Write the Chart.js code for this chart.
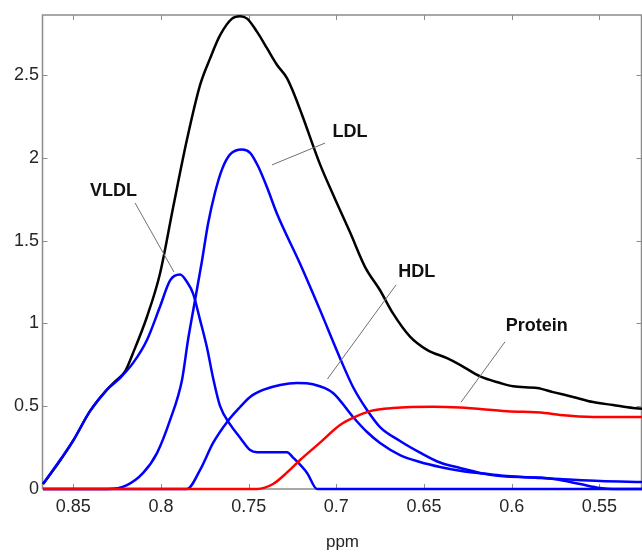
<!DOCTYPE html>
<html><head><meta charset="utf-8">
<script src="https://cdn.jsdelivr.net/npm/chart.js@4"></script>
<style>html,body{margin:0;padding:0;background:#fff;overflow:hidden}canvas{display:block}</style>
</head><body>
<canvas id="c" width="642" height="555"></canvas>
<script>
// ---- axis ticks ----
const xTicks = [0.85, 0.8, 0.75, 0.7, 0.65, 0.6, 0.55];
const xTickLabels = ['0.85', '0.8', '0.75', '0.7', '0.65', '0.6', '0.55'];
const yTicks = [0, 0.5, 1, 1.5, 2, 2.5];
const yTickLabels = ['0', '0.5', '1', '1.5', '2', '2.5'];
const xRange = [0.5257, 0.8673];
const yRange = [0, 2.862];
const xTitle = 'ppm';

// ---- series: Total (black) ----
const totalPpm = [0.8673,0.8576,0.8502,0.8405,0.8308,0.8262,0.8205,0.8160,0.8080,0.8006,0.7931,0.7852,0.7777,0.7720,0.7663,0.7595,0.7549,0.7509,0.7452,0.7395,0.7338,0.7281,0.7247,0.7196,0.7093,0.7007,0.6922,0.6836,0.6751,0.6677,0.6580,0.6483,0.6369,0.6295,0.6180,0.6066,0.5992,0.5855,0.5764,0.5650,0.5536,0.5422,0.5308,0.5257];
const totalVal = [0.03,0.17,0.29,0.47,0.60,0.65,0.71,0.82,1.04,1.30,1.70,2.11,2.44,2.60,2.74,2.84,2.855,2.84,2.76,2.66,2.56,2.48,2.40,2.26,1.96,1.75,1.55,1.34,1.20,1.06,0.92,0.84,0.79,0.75,0.68,0.64,0.62,0.61,0.585,0.556,0.525,0.507,0.489,0.485];

// ---- VLDL (blue) ----
const vldlPpm = [0.8673,0.8576,0.8502,0.8405,0.8308,0.8234,0.8160,0.8080,0.8006,0.7948,0.7891,0.7852,0.7817,0.7777,0.7737,0.7703,0.7663,0.7606,0.7549,0.7492,0.7452,0.7281,0.7247,0.7167,0.7110,0.6500,0.5257];
const vldlVal = [0.03,0.175,0.29,0.47,0.60,0.67,0.76,0.90,1.10,1.26,1.295,1.25,1.18,1.02,0.85,0.67,0.50,0.39,0.31,0.235,0.222,0.222,0.19,0.097,0,0,0];

// ---- LDL (blue) ----
const ldlPpm = [0.8673,0.8308,0.8194,0.8102,0.8023,0.7948,0.7880,0.7846,0.7806,0.7766,0.7732,0.7692,0.7652,0.7606,0.7538,0.7492,0.7447,0.7395,0.7338,0.7207,0.7093,0.6979,0.6905,0.6825,0.6751,0.6637,0.6523,0.6409,0.6295,0.6180,0.6066,0.5952,0.5838,0.5724,0.5610,0.5496,0.5422,0.5257];
const ldlVal = [0,0,0.024,0.097,0.217,0.417,0.66,0.90,1.14,1.38,1.60,1.79,1.93,2.02,2.05,2.03,1.95,1.82,1.66,1.36,1.08,0.79,0.616,0.477,0.374,0.29,0.22,0.16,0.127,0.097,0.079,0.072,0.07,0.054,0.030,0.006,0,0];

// ---- HDL (blue) ----
const hdlPpm = [0.8673,0.7852,0.7777,0.7703,0.7623,0.7549,0.7492,0.7418,0.7321,0.7224,0.7133,0.7019,0.6905,0.6825,0.6751,0.6637,0.6523,0.6409,0.6295,0.6180,0.6066,0.5838,0.5724,0.5496,0.5257];
const hdlVal = [0,0,0.115,0.278,0.405,0.495,0.556,0.598,0.628,0.640,0.632,0.58,0.435,0.344,0.278,0.205,0.163,0.133,0.11,0.095,0.082,0.066,0.06,0.048,0.042];

// ---- Protein (red) ----
const protPpm = [0.8673,0.7452,0.7361,0.7281,0.7207,0.7093,0.6979,0.6893,0.6808,0.6677,0.6448,0.6295,0.6026,0.5812,0.5724,0.5536,0.5257];
const protVal = [0,0,0.03,0.10,0.175,0.28,0.386,0.435,0.47,0.489,0.497,0.492,0.47,0.459,0.447,0.435,0.435];

// ---- annotations (label, text anchor ppm/value, leader from -> to) ----
const annLabels = ['VLDL', 'LDL', 'HDL', 'Protein'];
const annTextPpm = [0.8271, 0.6922, 0.6541, 0.5857];
const annTextVal = [1.80, 2.153, 1.312, 0.985];
const annFromPpm = [0.8148, 0.7064, 0.6660, 0.6038];
const annFromVal = [1.727, 2.089, 1.232, 0.889];
const annToPpm = [0.7926, 0.7367, 0.7051, 0.6289];
const annToVal = [1.31, 1.957, 0.664, 0.524];

const FONT = "'Liberation Sans', Arial, Helvetica, sans-serif";

function ds(label, ppm, vals, color, order) {
  return {
    label, data: ppm.map((p, i) => ({x: p, y: vals[i]})),
    borderColor: color, backgroundColor: color, borderWidth: 2.5,
    pointRadius: 0, fill: false, cubicInterpolationMode: 'monotone',
    order, clip: false
  };
}

const framePlugin = {
  id: 'frame',
  beforeDatasetsDraw(chart) {
    const {ctx, chartArea: a, scales: {x, y}} = chart;
    ctx.save();
    ctx.strokeStyle = '#8c8c8c';
    ctx.lineWidth = 1.5;
    const L = a.left - 0.5, R = a.right - 0.5, T = a.top, B = a.bottom;
    ctx.beginPath();
    ctx.moveTo(L, B); ctx.lineTo(L, T); ctx.lineTo(R, T); ctx.lineTo(R, B); ctx.lineTo(L, B);
    ctx.stroke();
    ctx.lineWidth = 1;
    const tl = 5;
    ctx.beginPath();
    xTicks.forEach(v => {
      const px = Math.round(x.getPixelForValue(v)) + 0.5;
      ctx.moveTo(px, T); ctx.lineTo(px, T + tl);
      ctx.moveTo(px, B); ctx.lineTo(px, B - tl);
    });
    yTicks.forEach(v => {
      const py = Math.round(y.getPixelForValue(v)) + 0.5;
      ctx.moveTo(L, py); ctx.lineTo(L + tl, py);
      ctx.moveTo(R, py); ctx.lineTo(R - tl, py);
    });
    ctx.stroke();
    ctx.restore();
  },
  afterDatasetsDraw(chart) {
    const {ctx, scales: {x, y}} = chart;
    ctx.save();
    ctx.strokeStyle = '#707070';
    ctx.lineWidth = 1;
    annLabels.forEach((t, i) => {
      ctx.beginPath();
      ctx.moveTo(x.getPixelForValue(annFromPpm[i]), y.getPixelForValue(annFromVal[i]));
      ctx.lineTo(x.getPixelForValue(annToPpm[i]), y.getPixelForValue(annToVal[i]));
      ctx.stroke();
    });
    ctx.fillStyle = '#111';
    ctx.font = 'bold 18px ' + FONT;
    ctx.textAlign = 'center';
    ctx.textBaseline = 'middle';
    annLabels.forEach((t, i) => {
      ctx.fillText(t, x.getPixelForValue(annTextPpm[i]), y.getPixelForValue(annTextVal[i]));
    });
    ctx.restore();
  }
};

new Chart(document.getElementById('c'), {
  type: 'line',
  data: {
    datasets: [
      ds('Protein', protPpm, protVal, '#ff0000', 1),
      ds('HDL', hdlPpm, hdlVal, '#0000ff', 2),
      ds('LDL', ldlPpm, ldlVal, '#0000ff', 3),
      ds('VLDL', vldlPpm, vldlVal, '#0000ff', 4),
      ds('Total', totalPpm, totalVal, '#000000', 5)
    ]
  },
  options: {
    responsive: false,
    animation: false,
    events: [],
    layout: {padding: {top: 15, right: 0, left: 0, bottom: 0}},
    plugins: {legend: {display: false}, tooltip: {enabled: false}},
    scales: {
      x: {
        type: 'linear', reverse: true, min: xRange[0], max: xRange[1],
        grid: {display: false, drawTicks: false}, border: {display: false},
        ticks: {font: {family: FONT, size: 18}, color: '#262626', padding: 7, maxRotation: 0, autoSkip: false,
                callback: (v, i) => xTickLabels[i]},
        afterBuildTicks: s => { s.ticks = xTicks.map(v => ({value: v})); },
        afterFit: s => { s.height = 66; },
        title: {display: true, text: xTitle, font: {family: FONT, size: 17}, color: '#262626', padding: {top: 0, bottom: 2}}
      },
      y: {
        type: 'linear', min: yRange[0], max: yRange[1],
        grid: {display: false, drawTicks: false}, border: {display: false},
        ticks: {font: {family: FONT, size: 18}, color: '#262626', padding: 4,
                callback: (v, i) => yTickLabels[i]},
        afterBuildTicks: s => { s.ticks = yTicks.map(v => ({value: v})); },
        afterFit: s => { s.width = 43; }
      }
    }
  },
  plugins: [framePlugin]
});
</script>
</body></html>
